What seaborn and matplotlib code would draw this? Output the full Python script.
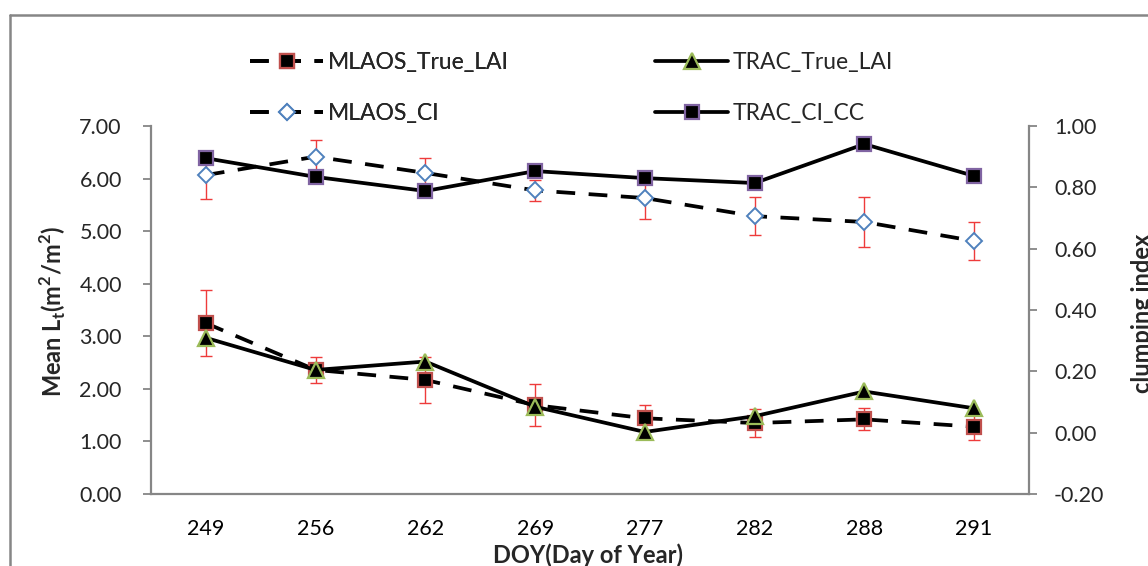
import matplotlib
matplotlib.use("Agg")
import matplotlib.pyplot as plt
from matplotlib.lines import Line2D
import seaborn as sns
import numpy as np
import pandas as pd

# ---- data ----
doy = ["249", "256", "262", "269", "277", "282", "288", "291"]
mlaos_true_lai = [3.25, 2.36, 2.17, 1.69, 1.44, 1.35, 1.42, 1.28]
mlaos_true_lai_err = [0.63, 0.25, 0.43, 0.40, 0.25, 0.27, 0.21, 0.26]
trac_true_lai = [2.97, 2.36, 2.52, 1.66, 1.18, 1.48, 1.95, 1.63]
mlaos_ci = [0.840, 0.900, 0.847, 0.790, 0.765, 0.706, 0.687, 0.625]
mlaos_ci_err = [0.078, 0.055, 0.050, 0.035, 0.068, 0.062, 0.080, 0.062]
trac_ci_cc = [0.895, 0.834, 0.788, 0.853, 0.830, 0.814, 0.941, 0.837]

left_ticks = [0, 1, 2, 3, 4, 5, 6, 7]
right_ticks = [-0.2, 0.0, 0.2, 0.4, 0.6, 0.8, 1.0]

sns.set_theme(style="white")
plt.rcParams["font.family"] = ["Lato", "DejaVu Sans"]

FS = 15.5
LFS = 16.5
BFS = 17
GRAY = "#868686"
ERRC = "#EE3B3B"

fig = plt.figure(figsize=(11.48, 5.66), dpi=100)
ax = fig.add_axes([151 / 1148, 1 - 494 / 566, (1029 - 151) / 1148, (494 - 126) / 566])
ax2 = ax.twinx()

pos = np.arange(len(doy))
df = pd.DataFrame({"pos": pos, "ml": mlaos_true_lai, "tr": trac_true_lai,
                   "mc": mlaos_ci, "tc": trac_ci_cc})

LW = 2.7
DASH = (5, 3.6)

# error bars (drawn first so markers sit on top)
ax.errorbar(pos, mlaos_true_lai, yerr=mlaos_true_lai_err, fmt="none", ecolor=ERRC,
            elinewidth=1.0, capsize=4, capthick=1.0, zorder=2)
ax2.errorbar(pos, mlaos_ci, yerr=mlaos_ci_err, fmt="none", ecolor=ERRC,
             elinewidth=1.0, capsize=4, capthick=1.0, zorder=2)

sns.lineplot(data=df, x="pos", y="ml", ax=ax, color="black", lw=LW,
             marker="s", markersize=10, markerfacecolor="black",
             markeredgecolor="#C0504D", markeredgewidth=1.6, zorder=3)
ax.lines[-1].set_dashes(DASH)
sns.lineplot(data=df, x="pos", y="tr", ax=ax, color="black", lw=LW,
             marker="^", markersize=11, markerfacecolor="black",
             markeredgecolor="#9BBB59", markeredgewidth=1.6, zorder=4)
sns.lineplot(data=df, x="pos", y="mc", ax=ax2, color="black", lw=LW,
             marker="D", markersize=8, markerfacecolor="white",
             markeredgecolor="#4F81BD", markeredgewidth=1.4, zorder=3)
ax2.lines[-1].set_dashes(DASH)
sns.lineplot(data=df, x="pos", y="tc", ax=ax2, color="black", lw=LW,
             marker="s", markersize=10, markerfacecolor="black",
             markeredgecolor="#8064A2", markeredgewidth=1.6, zorder=4)

ax.set_xlim(-0.5, len(doy) - 0.5)
ax.set_ylim(0, 7)
ax2.set_ylim(-0.2, 1.0)

ax.set_xticks(pos)
ax.set_xticklabels(doy)
ax.set_xticks(np.arange(-0.5, len(doy)), minor=True)
ax.tick_params(axis="x", which="major", length=0, pad=18, labelsize=FS, colors="black")
ax.tick_params(axis="x", which="minor", length=7, width=1.3, color=GRAY, direction="out")
ax.set_yticks(left_ticks)
ax.set_yticklabels([f"{v:.2f}" for v in left_ticks])
ax.tick_params(axis="y", length=6, width=1.3, color=GRAY, pad=15, labelsize=FS,
               direction="out", left=True)
ax2.set_yticks(right_ticks)
ax2.set_yticklabels([f"{v:.2f}" for v in right_ticks])
ax2.tick_params(axis="y", length=6, width=1.3, color=GRAY, pad=12, labelsize=FS,
                direction="out", right=True)

for a in (ax, ax2):
    for s in ["left", "right", "bottom"]:
        a.spines[s].set_color(GRAY)
        a.spines[s].set_linewidth(1.6)
    a.spines["top"].set_visible(False)
    a.grid(False)
ax.spines["right"].set_visible(False)
ax2.spines["left"].set_visible(False)
ax2.spines["bottom"].set_visible(False)

ax.set_xlabel("")
ax.set_ylabel("")
ax2.set_ylabel("")
fig.text(588 / 1148, 1 - 555 / 566, "DOY(Day of Year)", ha="center", va="center",
         fontsize=BFS, fontweight="bold")
fig.text(53 / 1148, 1 - 311 / 566, r"Mean L$_\mathregular{t}$(m$^\mathregular{2}$/m$^\mathregular{2}$)",
         ha="center", va="center", rotation=90, fontsize=BFS, fontweight="bold")
fig.text(1142 / 1148, 1 - 313 / 566, "clumping index", ha="center", va="center",
         rotation=90, fontsize=BFS, fontweight="bold")

# legend
def h(ls, marker, mfc, mec, ms, mew):
    l = Line2D([0], [0], color="black", lw=LW, marker=marker, markersize=ms,
               markerfacecolor=mfc, markeredgecolor=mec, markeredgewidth=mew)
    if ls == "--":
        l.set_dashes(DASH)
    return l

h1 = [h("--", "s", "black", "#C0504D", 10, 1.6), h("--", "D", "white", "#4F81BD", 8, 1.4)]
h2 = [h("-", "^", "black", "#9BBB59", 11, 1.6), h("-", "s", "black", "#8064A2", 10, 1.6)]
kw = dict(loc="center left", frameon=False, fontsize=LFS, handlelength=3.2,
          handletextpad=0.2, labelspacing=1.3, borderpad=0, borderaxespad=0)
leg1 = fig.legend(h1, ["MLAOS_True_LAI", "MLAOS_CI"],
                  bbox_to_anchor=(250 / 1148, 1 - 88 / 566), **kw)
leg2 = fig.legend(h2, ["TRAC_True_LAI", "TRAC_CI_CC"],
                  bbox_to_anchor=(655 / 1148, 1 - 88 / 566), **kw)
fig.add_artist(leg1)

# chart-area border
fig.add_artist(Line2D([10 / 1148, 10 / 1148], [0, 1 - 15 / 566], color=GRAY, lw=1.8,
                      transform=fig.transFigure))
fig.add_artist(Line2D([10 / 1148, 1], [1 - 15 / 566, 1 - 15 / 566], color=GRAY, lw=1.8,
                      transform=fig.transFigure))

fig.savefig("out.png", dpi=100, facecolor="white")
